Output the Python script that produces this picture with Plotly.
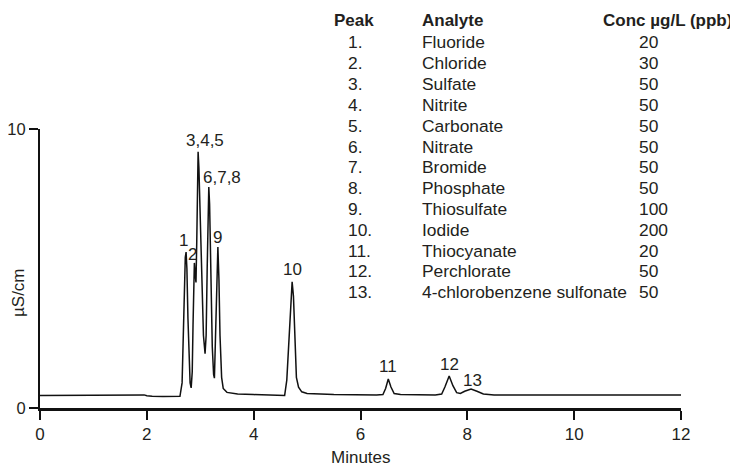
import plotly.graph_objects as go

# ---- chromatogram trace ----
time_min = [0.0, 1.85, 1.95, 2.0, 2.1, 2.3, 2.55, 2.62, 2.66, 2.68, 2.70, 2.72, 2.735, 2.75, 2.77, 2.79,
            2.81, 2.83, 2.85, 2.865, 2.88, 2.89, 2.905, 2.92, 2.935, 2.95, 2.96, 2.975, 3.0, 3.03,
            3.06, 3.09, 3.11, 3.13, 3.15, 3.16, 3.175, 3.20, 3.225, 3.25, 3.265, 3.285, 3.31, 3.33,
            3.35, 3.37, 3.40, 3.43, 3.5, 3.7, 4.0, 4.45, 4.53, 4.58, 4.62, 4.66, 4.70, 4.72, 4.745,
            4.77, 4.80, 4.84, 4.90, 5.0, 5.5, 6.3, 6.42, 6.47, 6.52, 6.57, 6.63, 6.75, 7.4, 7.52,
            7.58, 7.66, 7.73, 7.80, 7.87, 7.95, 8.07, 8.18, 8.3, 8.5, 12.0]
signal_uScm = [0.45, 0.46, 0.47, 0.44, 0.42, 0.41, 0.41, 0.42, 0.9, 2.5, 4.3, 5.4, 5.59, 5.0, 3.2, 1.6,
               0.9, 0.72, 1.3, 3.0, 4.6, 5.2, 4.8, 4.5, 6.0, 8.5, 9.18, 8.6, 6.5, 4.0,
               2.6, 1.95, 2.6, 5.0, 7.5, 7.92, 7.3, 4.5, 2.2, 1.2, 1.07, 2.5, 5.0, 5.77,
               4.6, 2.6, 1.1, 0.7, 0.56, 0.5, 0.48, 0.46, 0.43, 0.45, 1.0, 2.5, 4.2, 4.52, 4.0,
               2.4, 1.1, 0.75, 0.58, 0.52, 0.48, 0.47, 0.48, 0.7, 1.04, 0.75, 0.52, 0.48, 0.47, 0.5,
               0.75, 1.15, 0.8, 0.55, 0.52, 0.6, 0.68, 0.6, 0.5, 0.47, 0.47]

# ---- peak labels ----
peak_labels = ["1", "2", "3,4,5", "6,7,8", "9", "10", "11", "12", "13"]
peak_times = [2.73, 2.89, 2.96, 3.16, 3.33, 4.72, 6.52, 7.66, 8.07]
peak_heights = [5.59, 5.2, 9.18, 7.92, 5.77, 4.52, 1.04, 1.15, 0.68]

# ---- table ----
table_peak = ["1.", "2.", "3.", "4.", "5.", "6.", "7.", "8.", "9.", "10.", "11.", "12.", "13."]
table_analyte = ["Fluoride", "Chloride", "Sulfate", "Nitrite", "Carbonate", "Nitrate", "Bromide",
                 "Phosphate", "Thiosulfate", "Iodide", "Thiocyanate", "Perchlorate",
                 "4-chlorobenzene sulfonate"]
table_conc = ["20", "30", "50", "50", "50", "50", "50", "50", "100", "200", "20", "50", "50"]
table_headers = ["Peak", "Analyte", "Conc µg/L (ppb)"]

x_ticks = [0, 2, 4, 6, 8, 10, 12]
y_ticks = [0, 10]

TXT = "#231f20"
FONT = "Liberation Sans, Arial, Helvetica, sans-serif"
FS_TAB = 17.4
FS_HEAD = 17
FS_AX = 17

# screen geometry (page body has an 8px margin)
OFF = 8
WIN_W, WIN_H = 738, 468
L, R, T, B = 40, 681, 129, 408   # plot area in screen pixels


def px_x(px):
    return (px - L) / (R - L)


def px_y(py):
    return (B - py) / (B - T)


fig = go.Figure()
fig.add_trace(go.Scatter(x=time_min, y=signal_uScm, mode="lines",
                         line=dict(color="#111111", width=1.5), hoverinfo="skip",
                         showlegend=False))

# label offsets (pixels) relative to peak apex
label_dx = [-2, -2, 7, 13, 0, 0, 0, 0, 1]
label_dy = [12, 8, 11, 10, 10, 12, 12, 11, 9]
ann = []
for lab, t, h, dx, dy in zip(peak_labels, peak_times, peak_heights, label_dx, label_dy):
    ann.append(dict(x=t, y=h, xref="x", yref="y", text=lab, showarrow=False,
                    xanchor="center", yanchor="middle", xshift=dx, yshift=dy,
                    font=dict(family=FONT, size=FS_AX, color=TXT)))

col_x = [333, 421, 602]
val_x = [347, 421, 638]
header_y = 21
row0_y = 42.5
row_dy = 20.8
for hx, htxt in zip(col_x, table_headers):
    ann.append(dict(x=px_x(hx), y=px_y(header_y), xref="paper", yref="paper",
                    text="<b>" + htxt + "</b>", showarrow=False, xanchor="left",
                    yanchor="middle", borderpad=0,
                    font=dict(family=FONT, size=FS_HEAD, color=TXT)))
for i, (p, a, c) in enumerate(zip(table_peak, table_analyte, table_conc)):
    yy = px_y(row0_y + i * row_dy)
    for vx, txt in zip(val_x, (p, a, c)):
        ann.append(dict(x=px_x(vx), y=yy, xref="paper", yref="paper", text=txt,
                        showarrow=False, xanchor="left", yanchor="middle", borderpad=0,
                        font=dict(family=FONT, size=FS_TAB, color=TXT)))

# axis titles
ann.append(dict(x=px_x(18), y=px_y(293), xref="paper", yref="paper", text="µS/cm",
                showarrow=False, textangle=-90, xanchor="center", yanchor="middle",
                font=dict(family=FONT, size=FS_AX, color=TXT)))
ann.append(dict(x=px_x(361), y=px_y(457), xref="paper", yref="paper", text="Minutes",
                showarrow=False, xanchor="center", yanchor="middle", borderpad=0,
                font=dict(family=FONT, size=FS_AX, color=TXT)))

fig.update_layout(
    width=WIN_W - OFF, height=WIN_H - OFF,
    margin=dict(l=L - OFF, r=WIN_W - R, t=T - OFF, b=WIN_H - B, pad=0, autoexpand=False),
    paper_bgcolor="white", plot_bgcolor="white",
    annotations=ann,
    font=dict(family=FONT, size=FS_AX, color=TXT),
)
fig.update_xaxes(range=[0, 12], tickvals=x_ticks, ticks="outside", ticklen=9, tickwidth=2,
                 tickcolor="#111111", showline=True, linewidth=2.5, linecolor="#111111",
                 showgrid=False, zeroline=False, automargin=False,
                 tickfont=dict(family=FONT, size=FS_AX, color=TXT))
fig.update_yaxes(range=[0, 10], tickvals=y_ticks, ticks="outside", ticklen=9, tickwidth=2,
                 tickcolor="#111111", showline=True, linewidth=2, linecolor="#111111",
                 showgrid=False, zeroline=False, automargin=False,
                 tickfont=dict(family=FONT, size=16.5, color=TXT))

fig.write_html("out.html")
